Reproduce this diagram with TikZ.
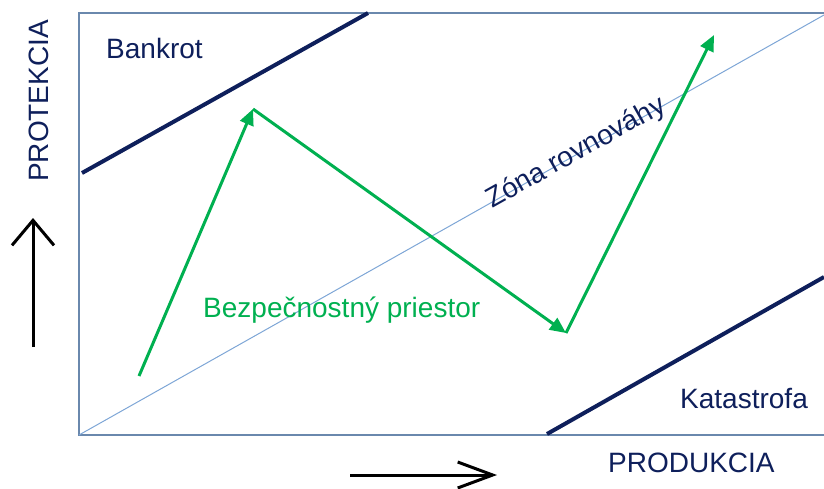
\documentclass[tikz,border=0pt]{standalone}
\usepackage{fontspec}
\setmainfont{Liberation Sans}
\usetikzlibrary{arrows.meta}
\definecolor{navy}{HTML}{0E1F5B}
\definecolor{zelena}{HTML}{00B050}
\definecolor{ramec}{HTML}{6A88AD}
\definecolor{rovnovaha}{HTML}{7EA6D6}

\begin{document}
\begin{tikzpicture}[x=1pt, y=-1pt,
    zone text/.style={font=\fontsize{28}{32}\selectfont, text=#1, inner sep=0pt},
    zone border/.style={draw=navy, line width=4pt},
    path arrow/.style={draw=zelena, line width=3pt, -{Triangle[length=16pt, width=14pt]}},
    axis arrow/.style={draw=black, line width=3pt, -{Straight Barb[#1]}}
]
\useasboundingbox (0,0) rectangle (824,488);

% Frame of the diagram and the equilibrium diagonal
\coordinate (tl) at (79,13);
\coordinate (tr) at (824,13);
\coordinate (bl) at (79,435);
\coordinate (br) at (824,435);
\coordinate (diag) at (824,15);
\draw [ramec, line width=1.5pt] (tr) -- (tl) -- (bl) -- (br);
\draw [rovnovaha, line width=1pt] (bl) -- (diag);

% Borders of the safety zone
\coordinate (b0) at (82,173);
\coordinate (b1) at (368,13);
\coordinate (k0) at (547,434);
\coordinate (k1) at (824,277);
\draw [zone border] (b0) -- (b1);
\draw [zone border] (k0) -- (k1);

% Path of the firm
\coordinate (s0) at (139,376);
\coordinate (s1) at (253,109);
\coordinate (s2) at (566,333);
\coordinate (s3) at (714,35);
\draw [path arrow] (s0) -- (s1);
\draw [path arrow] (s1) -- (s2);
\draw [path arrow] (s2) -- (s3);

% Axis arrows
\coordinate (v0) at (33,347);
\coordinate (v1) at (33,218);
\coordinate (h0) at (350,475);
\coordinate (h1) at (497,475);
\draw [axis arrow={length=25pt, width=42pt}] (v0) -- (v1);
\draw [axis arrow={length=35pt, width=26pt}] (h0) -- (h1);

% Labels
\node [zone text=navy, anchor=base west] (bankrot) at (106,58) {Bankrot};
\node [zone text=navy, anchor=base west] (katastrofa) at (680,408) {Katastrofa};
\node [zone text=zelena, anchor=base west] (priestor) at (203,317) {Bezpečnostný priestor};
\node [zone text=navy, anchor=base west, rotate=29.3] (zona) at (492,209) {Zóna rovnováhy};
\node [zone text=navy, anchor=base west] (produkcia) at (608,472) {PRODUKCIA};
\node [zone text=navy, anchor=base west, rotate=90] (protekcia) at (48,182) {PROTEKCIA};

\end{tikzpicture}
\end{document}
